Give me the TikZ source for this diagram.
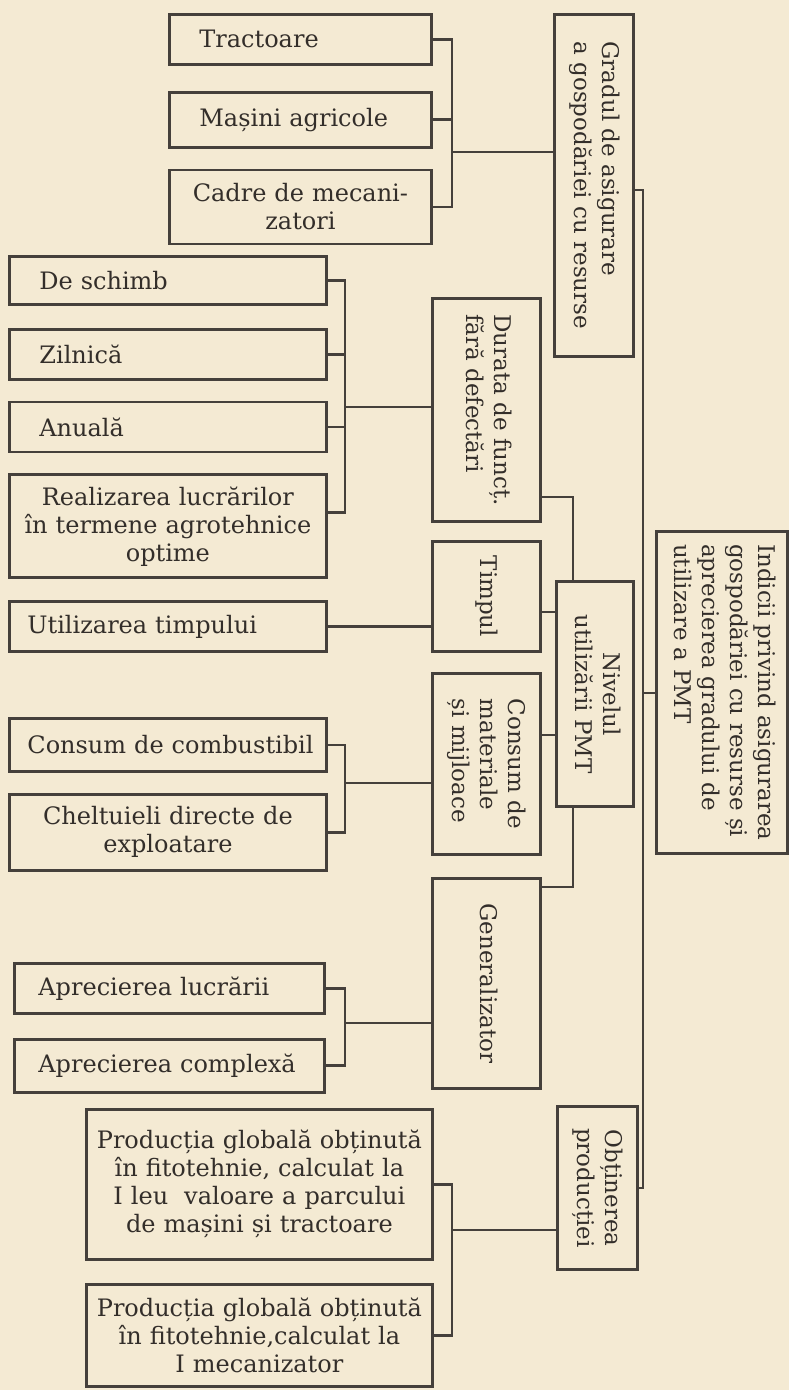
\documentclass[tikz,border=0pt]{standalone}
\usepackage{fontspec}
\setmainfont{DejaVu Serif}
\usepackage{graphicx}
\usepackage{xcolor}
\usepackage{tikz}
\usetikzlibrary{positioning,calc}

\definecolor{paper}{HTML}{F4EAD3}
\definecolor{ink}{HTML}{45403B}
\definecolor{print}{HTML}{332E2A}

\hyphenpenalty=10000

% text turned to read downwards inside the tall boxes
\newcommand{\sidetext}[2][c]{\rotatebox{-90}{\begin{tabular}{@{}#1@{}}#2\end{tabular}}}

\begin{document}
\begin{tikzpicture}[
    x=0.5pt, y=-0.5pt,
    font=\fontsize{11.5}{14}\selectfont,
    item/.style={draw=ink, line width=1.4pt, text=print, font=\fontsize{12}{14}\selectfont,
      inner xsep=15pt, inner ysep=2pt, text width=#1, align=left, anchor=north west},
    upright/.style={draw=ink, line width=1.4pt, text=print, inner sep=0pt, anchor=north west},
    link/.style={draw=ink, line width=1.4pt}
  ]
    % Paper
    \fill[paper] (0,0) rectangle (789,1390);
    \useasboundingbox (0,0) rectangle (789,1390);

    % Resources
    \node[item=101pt, minimum height=25pt] (trac) at (168,13) {Tractoare};
    \node[item=101pt, minimum height=27.5pt, below=12.5pt of trac] (masini) {Mașini agricole};
    \node[item=121pt, inner xsep=5pt, align=center, minimum height=37pt, below=10pt of masini] (cadre) {Cadre de mecani-\\zatori};
    \node[upright, minimum width=39.5pt, minimum height=171pt] (grad) at (553,13)
      {\sidetext[l]{Gradul de asigurare\\a gospodăriei cu resurse}};

    % Working time without failures
    \node[item=128.5pt, minimum height=24pt] (schimb) at (8,255) {De schimb};
    \node[item=128.5pt, minimum height=25pt, below=11pt of schimb] (zilnica) {Zilnică};
    \node[item=128.5pt, minimum height=25pt, below=10pt of zilnica] (anuala) {Anuală};
    \node[item=148.5pt, inner xsep=5pt, align=center, minimum height=51.5pt, below=10pt of anuala] (lucrari)
      {Realizarea lucrărilor\\în termene agrotehnice\\optime};
    \node[item=140.5pt, inner xsep=9pt, minimum height=25pt] (utiliz) at (8,600) {Utilizarea timpului};

    % Costs
    \node[item=140.5pt, inner xsep=9pt, minimum height=26.5pt] (combust) at (8,717) {\mbox{Consum de combustibil}};
    \node[item=148.5pt, inner xsep=5pt, align=center, minimum height=38pt, below=10pt of combust] (chelt)
      {Cheltuieli directe de\\exploatare};

    % Overall
    \node[item=131pt, inner xsep=12pt, minimum height=25pt] (aprlucr) at (13,962) {Aprecierea lucrării};
    \node[item=131pt, inner xsep=12pt, minimum height=26.5pt, below=11.5pt of aprlucr] (aprcompl)
      {\mbox{Aprecierea complexă}};

    % Output
    \node[item=165pt, inner xsep=4pt, align=center, minimum height=75pt] (prodleu) at (85,1108)
      {Producția globală obținută\\în fitotehnie, calculat la\\I leu \ valoare a parcului\\de mașini și tractoare};
    \node[item=165pt, inner xsep=4pt, align=center, minimum height=51pt, below=11pt of prodleu] (prodmec)
      {Producția globală obținută\\în fitotehnie,calculat la\\I mecanizator};

    % Tall boxes
    \node[upright, minimum width=54pt, minimum height=111.5pt] (durata) at (431,297)
      {\sidetext[l]{Durata de funcț.\\fără defectări}};
    \node[upright, minimum width=54pt, minimum height=55pt] (timpul) at (431,540) {\sidetext{Timpul}};
    \node[upright, minimum width=54pt, minimum height=90.5pt] (consum) at (431,672)
      {\sidetext[l]{Consum de\\materiale\\și mijloace}};
    \node[upright, minimum width=54pt, minimum height=105pt] (general) at (431,877) {\sidetext{Generalizator}};
    \node[upright, minimum width=38.5pt, minimum height=112.5pt] (nivel) at (555,580)
      {\sidetext{Nivelul\\utilizării PMT}};
    \node[upright, minimum width=40pt, minimum height=81.5pt] (obtin) at (556,1105)
      {\sidetext{Obținerea\\producției}};
    \node[upright, minimum width=65.5pt, minimum height=161pt] (indicii) at (655,530)
      {\sidetext[l]{Indicii privind asigurarea\\gospodăriei cu resurse și\\aprecierea gradului de\\utilizare a PMT}};

    % Bus points
    \coordinate (b1) at (452,152);
    \coordinate (b2) at (345,407);
    \coordinate (b3) at (345,783);
    \coordinate (b4) at (345,1023);
    \coordinate (b5) at (452,1230);
    \coordinate (k1) at (573,497);
    \coordinate (k2) at (573,887);
    \coordinate (t1) at (547,612);
    \coordinate (t2) at (547,735);
    \coordinate (s1) at (643,190);
    \coordinate (s2) at (643,1188);
    \coordinate (s3) at (643,693);

    % Brackets
    \draw[link] (trac.east) -| (b1) |- (cadre.east);
    \draw[link] (masini.east) -- (masini.east -| b1);
    \draw[link] (b1) -- (b1 -| grad.west);

    \draw[link] (schimb.east) -| (b2) |- ([yshift=7pt]lucrari.east);
    \foreach \n in {zilnica,anuala}
      \draw[link] (\n.east) -- (\n.east -| b2);
    \draw[link] (b2) -- (b2 -| durata.west);

    \draw[link] (utiliz.east) -- (utiliz.east -| timpul.west);

    \draw[link] (combust.east) -| (b3) |- (chelt.east);
    \draw[link] (b3) -- (b3 -| consum.west);

    \draw[link] (aprlucr.east) -| (b4) |- (aprcompl.east);
    \draw[link] (b4) -- (b4 -| general.west);

    \draw[link] (prodleu.east) -| (b5) |- (prodmec.east);
    \draw[link] (b5) -- (b5 -| obtin.west);

    % Into the level of use
    \draw[link] (k1 -| durata.east) -- (k1) -- (k1 |- nivel.north);
    \draw[link] (timpul.east |- t1) -- (t1 -| nivel.west);
    \draw[link] (consum.east |- t2) -- (t2 -| nivel.west);
    \draw[link] (k2 |- nivel.south) -- (k2) -- (k2 -| general.east);

    % Spine
    \draw[link] (s1 -| grad.east) -- (s1) -- (s2) -- (s2 -| obtin.east);
    \draw[link] (s3) -- (s3 -| indicii.west);
\end{tikzpicture}
\end{document}
